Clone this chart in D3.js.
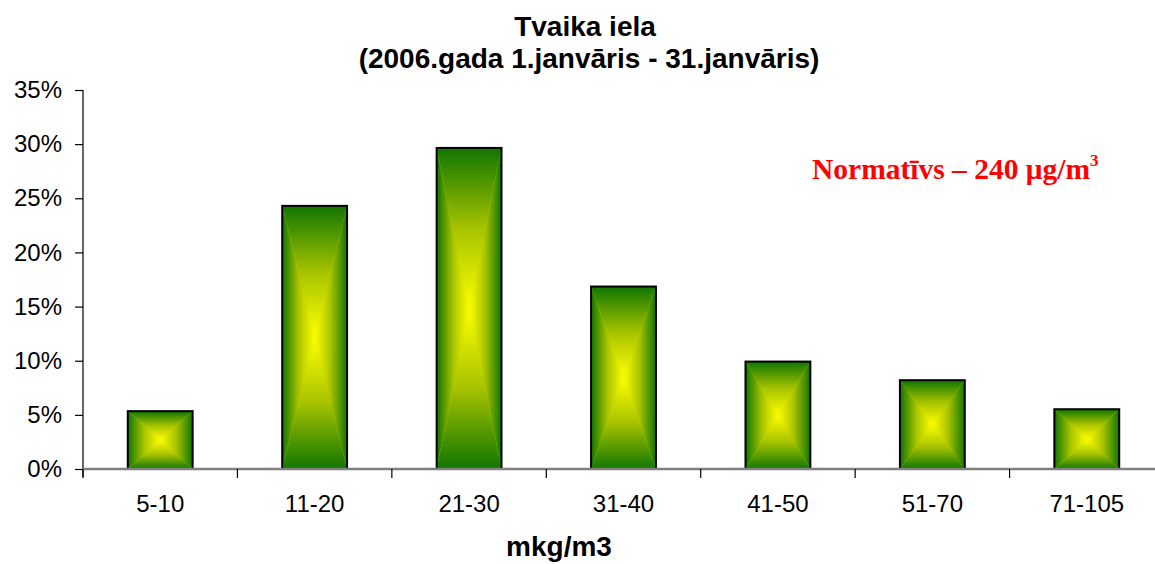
<!DOCTYPE html>
<html><head><meta charset="utf-8">
<script src="https://cdn.jsdelivr.net/npm/d3@7"></script>
<style>
html,body{margin:0;padding:0;background:#fff;}
svg{display:block;}
</style></head>
<body>
<svg id="chart" width="1155" height="564"></svg>
<script>
const categories = ["5-10","11-20","21-30","31-40","41-50","51-70","71-105"];
const values = [0.0534, 0.243, 0.2965, 0.1685, 0.0992, 0.082, 0.0552];
const yTicks = [0,0.05,0.10,0.15,0.20,0.25,0.30,0.35];
const titleLines = ["Tvaika iela","(2006.gada 1.janvāris - 31.janvāris)"];
const xTitle = "mkg/m3";

(function(){
const svg = d3.select("#chart");
const pL=83, pR=1164, pT=90, pB=469;
const SANS="Liberation Sans, Arial, sans-serif";

const x = d3.scaleBand().domain(categories).range([pL,pR]).padding(0);
const y = d3.scaleLinear().domain([0,0.35]).range([pB,pT]);

const GREEN="#107600", MID="#a6c200", YELLOW="#ffff00";
const defs = svg.append("defs");
function lg(id,x1,y1,x2,y2,rev){
  const g=defs.append("linearGradient").attr("id",id)
    .attr("x1",x1).attr("y1",y1).attr("x2",x2).attr("y2",y2);
  const stops = rev ? [[0,YELLOW],[0.5,MID],[1,GREEN]] : [[0,GREEN],[0.5,MID],[1,YELLOW]];
  stops.forEach(s=>g.append("stop").attr("offset",s[0]).attr("stop-color",s[1]));
}
lg("gTop",0,0,0,1,false);
lg("gBot",0,0,0,1,true);
lg("gLeft",0,0,1,0,false);
lg("gRight",0,0,1,0,true);

svg.append("text").attr("x",585).attr("y",36).attr("text-anchor","middle")
  .attr("font-family",SANS).attr("font-weight","bold")
  .attr("font-size",28).text(titleLines[0]);
svg.append("text").attr("x",589).attr("y",68).attr("text-anchor","middle")
  .attr("font-family",SANS).attr("font-weight","bold")
  .attr("font-size",28).text(titleLines[1]);

const yAxis = d3.axisLeft(y).tickValues(yTicks).tickFormat(d=>Math.round(d*100)+"%").tickSize(8).tickPadding(13);
const ya = svg.append("g").attr("transform",`translate(${pL},0)`).call(yAxis);
ya.select(".domain").attr("stroke","#000").attr("stroke-width",1.2).attr("d",`M0,${pT}V${pB+8}`);
ya.selectAll(".tick line").attr("stroke","#000").attr("stroke-width",1.2);
ya.selectAll(".tick text").attr("font-family",SANS)
  .attr("font-size",24).attr("fill","#000");

const bw = x.bandwidth()*0.42;
const bars = svg.append("g").selectAll("g").data(categories.map((c,i)=>({c,v:values[i]}))).join("g");
bars.each(function(d){
  const g=d3.select(this);
  const x0=x(d.c)+x.bandwidth()/2-bw/2, x1=x0+bw, y0=y(d.v), y1=y(0);
  const cx=(x0+x1)/2, cy=(y0+y1)/2;
  g.append("rect").attr("x",x0).attr("y",y0).attr("width",bw).attr("height",y1-y0).attr("fill","#c8d800");
  g.append("path").attr("d",`M${x0},${y0}L${x1},${y0}L${cx},${cy}Z`).attr("fill","url(#gTop)");
  g.append("path").attr("d",`M${x0},${y1}L${x1},${y1}L${cx},${cy}Z`).attr("fill","url(#gBot)");
  g.append("path").attr("d",`M${x0},${y0}L${x0},${y1}L${cx},${cy}Z`).attr("fill","url(#gLeft)");
  g.append("path").attr("d",`M${x1},${y0}L${x1},${y1}L${cx},${cy}Z`).attr("fill","url(#gRight)");
  g.append("rect").attr("x",x0).attr("y",y0).attr("width",bw).attr("height",y1-y0)
    .attr("fill","none").attr("stroke","#000").attr("stroke-width",2);
});

const xa = svg.append("g").attr("transform",`translate(0,${pB})`);
xa.append("line").attr("x1",pL).attr("x2",pR).attr("y1",0).attr("y2",0)
  .attr("stroke","#808080").attr("stroke-width",2.5);
const boundaries = categories.map(c=>x(c));
xa.selectAll("line.tk").data(boundaries).join("line").attr("class","tk")
  .attr("x1",d=>d).attr("x2",d=>d).attr("y1",0).attr("y2",9).attr("stroke","#000").attr("stroke-width",1.2);
xa.selectAll("text").data(categories).join("text")
  .attr("x",d=>x(d)+x.bandwidth()/2).attr("y",43).attr("text-anchor","middle")
  .attr("font-family",SANS).attr("font-size",24).attr("fill","#000")
  .text(d=>d);

svg.append("text").attr("x",559).attr("y",556).attr("text-anchor","middle")
  .attr("font-family",SANS).attr("font-weight","bold")
  .attr("font-size",28).text(xTitle);

const ann = svg.append("text").attr("x",812).attr("y",179)
  .attr("font-family","Liberation Serif, Times New Roman, serif").attr("font-weight","bold")
  .attr("font-size",29.5).attr("fill","#ff0000");
ann.append("tspan").text("Normatīvs – 240 μg/m");
ann.append("tspan").attr("dy",-13).attr("font-size",17).text("3");
})();
</script>
</body></html>
